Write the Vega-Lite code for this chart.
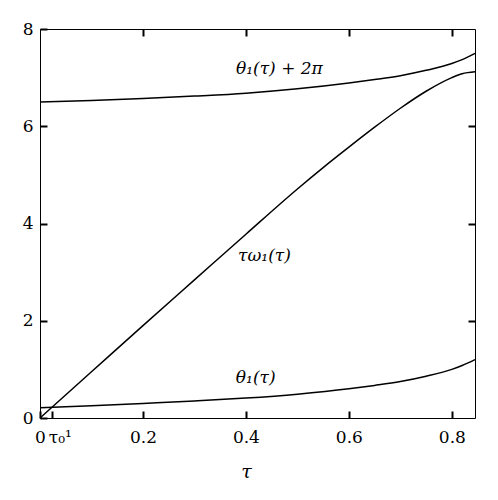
{
  "$schema": "https://vega.github.io/schema/vega-lite/v6.json",
  "width": 435,
  "height": 389,
  "autosize": {"type": "none"},
  "padding": {"left": 40, "top": 29, "right": 23, "bottom": 82},
  "background": "white",
  "datasets": {
    "curves": [
      {"tau": 0, "value": 6.5, "series": "theta_2pi"},
      {"tau": 0.1, "value": 6.53, "series": "theta_2pi"},
      {"tau": 0.2, "value": 6.57, "series": "theta_2pi"},
      {"tau": 0.3, "value": 6.62, "series": "theta_2pi"},
      {"tau": 0.4, "value": 6.68, "series": "theta_2pi"},
      {"tau": 0.5, "value": 6.77, "series": "theta_2pi"},
      {"tau": 0.6, "value": 6.89, "series": "theta_2pi"},
      {"tau": 0.65, "value": 6.96, "series": "theta_2pi"},
      {"tau": 0.7, "value": 7.04, "series": "theta_2pi"},
      {"tau": 0.75, "value": 7.15, "series": "theta_2pi"},
      {"tau": 0.8, "value": 7.29, "series": "theta_2pi"},
      {"tau": 0.82, "value": 7.37, "series": "theta_2pi"},
      {"tau": 0.845, "value": 7.5, "series": "theta_2pi"},
      {"tau": 0, "value": 0, "series": "tau_omega"},
      {"tau": 0.1, "value": 0.95, "series": "tau_omega"},
      {"tau": 0.2, "value": 1.9, "series": "tau_omega"},
      {"tau": 0.3, "value": 2.84, "series": "tau_omega"},
      {"tau": 0.4, "value": 3.78, "series": "tau_omega"},
      {"tau": 0.5, "value": 4.71, "series": "tau_omega"},
      {"tau": 0.55, "value": 5.15, "series": "tau_omega"},
      {"tau": 0.6, "value": 5.57, "series": "tau_omega"},
      {"tau": 0.65, "value": 5.98, "series": "tau_omega"},
      {"tau": 0.7, "value": 6.37, "series": "tau_omega"},
      {"tau": 0.75, "value": 6.72, "series": "tau_omega"},
      {"tau": 0.8, "value": 7.0, "series": "tau_omega"},
      {"tau": 0.82, "value": 7.08, "series": "tau_omega"},
      {"tau": 0.845, "value": 7.12, "series": "tau_omega"},
      {"tau": 0, "value": 0.21, "series": "theta"},
      {"tau": 0.1, "value": 0.25, "series": "theta"},
      {"tau": 0.2, "value": 0.3, "series": "theta"},
      {"tau": 0.3, "value": 0.35, "series": "theta"},
      {"tau": 0.4, "value": 0.41, "series": "theta"},
      {"tau": 0.5, "value": 0.49, "series": "theta"},
      {"tau": 0.6, "value": 0.6, "series": "theta"},
      {"tau": 0.65, "value": 0.67, "series": "theta"},
      {"tau": 0.7, "value": 0.75, "series": "theta"},
      {"tau": 0.75, "value": 0.86, "series": "theta"},
      {"tau": 0.8, "value": 1.0, "series": "theta"},
      {"tau": 0.82, "value": 1.08, "series": "theta"},
      {"tau": 0.845, "value": 1.2, "series": "theta"}
    ],
    "labels": [
      {"tau": 0.465, "value": 7.18, "label": "θ₁(τ) + 2π"},
      {"tau": 0.436, "value": 3.33, "label": "τω₁(τ)"},
      {"tau": 0.419, "value": 0.83, "label": "θ₁(τ)"}
    ]
  },
  "layer": [
    {
      "data": {"name": "curves"},
      "mark": {"type": "line", "color": "black", "strokeWidth": 1.5, "interpolate": "monotone"},
      "encoding": {
        "x": {
          "field": "tau",
          "type": "quantitative",
          "scale": {"domain": [0, 0.845], "nice": false, "zero": false},
          "axis": {
            "orient": "bottom",
            "values": [0, 0.024, 0.2, 0.4, 0.6, 0.8],
            "labelExpr": "datum.value == 0.024 ? 'τ₀¹' : (datum.value == 0 ? '0' : format(datum.value, '.1f'))",
            "labelAlign": {"expr": "datum.value == 0.024 ? 'left' : 'center'"},
            "labelOffset": {"expr": "datum.value == 0.024 ? -4 : 0"},
            "labelOverlap": false,
            "labelFlush": false,
            "grid": false,
            "domain": false,
            "offset": -7,
            "ticks": true,
            "tickSize": 7,
            "tickWidth": 2,
            "tickColor": "black",
            "zindex": 1,
            "labelColor": "black",
            "labelFont": "DejaVu Serif",
            "labelFontSize": 17,
            "labelPadding": 11,
            "title": "τ",
            "titleFont": "DejaVu Serif",
            "titleFontSize": 19,
            "titleFontStyle": "italic",
            "titleFontWeight": "normal",
            "titleColor": "black",
            "titlePadding": 17,
            "titleX": 206
          }
        },
        "y": {
          "field": "value",
          "type": "quantitative",
          "scale": {"domain": [0, 8], "nice": false},
          "axis": {
            "orient": "left",
            "values": [0, 2, 4, 6, 8],
            "grid": false,
            "domain": false,
            "offset": -7,
            "ticks": true,
            "tickSize": 7,
            "tickWidth": 2,
            "tickColor": "black",
            "zindex": 1,
            "labelColor": "black",
            "labelFont": "DejaVu Serif",
            "labelFontSize": 17,
            "labelPadding": 7,
            "title": null
          }
        },
        "detail": {"field": "series"}
      }
    },
    {
      "data": {"name": "labels"},
      "mark": {"type": "text", "font": "DejaVu Serif", "fontSize": 17, "fontStyle": "italic", "color": "black"},
      "encoding": {
        "x": {"field": "tau", "type": "quantitative", "axis": null},
        "y": {"field": "value", "type": "quantitative", "axis": null},
        "text": {"field": "label"}
      }
    },
    {
      "data": {"name": "curves"},
      "mark": {"type": "point", "opacity": 0},
      "encoding": {
        "x": {
          "field": "tau",
          "type": "quantitative",
          "scale": {"domain": [0, 0.845], "nice": false, "zero": false},
          "axis": {
            "orient": "top",
            "values": [0.2, 0.4, 0.6, 0.8],
            "labels": false,
            "grid": false,
            "domain": false,
            "offset": -7,
            "ticks": true,
            "tickSize": 7,
            "tickWidth": 2,
            "tickColor": "black",
            "zindex": 1,
            "title": null
          }
        },
        "y": {
          "field": "value",
          "type": "quantitative",
          "scale": {"domain": [0, 8], "nice": false},
          "axis": {
            "orient": "right",
            "values": [2, 4, 6],
            "labels": false,
            "grid": false,
            "domain": false,
            "offset": -7,
            "ticks": true,
            "tickSize": 7,
            "tickWidth": 2,
            "tickColor": "black",
            "zindex": 1,
            "title": null
          }
        }
      }
    }
  ],
  "resolve": {"axis": {"x": "independent", "y": "independent"}},
  "config": {
    "view": {"stroke": "black", "strokeWidth": 1},
    "font": "DejaVu Serif"
  }
}
